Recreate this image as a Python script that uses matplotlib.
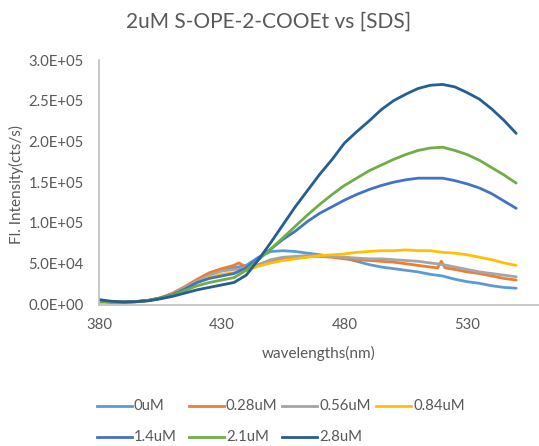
import matplotlib
matplotlib.use("Agg")
import matplotlib.pyplot as plt
from matplotlib.lines import Line2D

wavelengths = list(range(380, 551, 5))

s_0uM = [4e3, 3e3, 3e3, 3.5e3, 5e3, 8e3, 1.3e4, 2.0e4, 2.9e4, 3.7e4, 4.2e4, 4.5e4, 4.8e4, 5.8e4,
         6.5e4, 6.6e4, 6.5e4, 6.3e4, 6.1e4, 5.9e4, 5.7e4, 5.3e4, 4.9e4, 4.6e4, 4.4e4, 4.2e4,
         4.0e4, 3.7e4, 3.5e4, 3.1e4, 2.8e4, 2.6e4, 2.3e4, 2.1e4, 2.0e4]

wl_028 = [380, 385, 390, 395, 400, 405, 410, 415, 420, 425, 430, 435, 437, 440, 445, 450, 455,
          460, 465, 470, 475, 480, 485, 490, 495, 500, 505, 510, 515, 518, 519.5, 521, 525,
          530, 535, 540, 545, 550]
s_028uM = [4e3, 3e3, 3e3, 3.5e3, 5e3, 8e3, 1.4e4, 2.2e4, 3.1e4, 3.9e4, 4.4e4, 4.8e4, 5.1e4,
           4.6e4, 4.9e4, 5.3e4, 5.6e4, 5.8e4, 5.9e4, 5.9e4, 5.8e4, 5.6e4, 5.5e4, 5.4e4, 5.3e4,
           5.2e4, 5.0e4, 4.8e4, 4.6e4, 4.5e4, 5.3e4, 4.5e4, 4.3e4, 4.0e4, 3.8e4, 3.5e4, 3.2e4, 3.0e4]

s_056uM = [4e3, 3e3, 3e3, 3.5e3, 5e3, 8e3, 1.3e4, 2.1e4, 2.9e4, 3.6e4, 4.1e4, 4.3e4, 4.4e4,
           4.9e4, 5.5e4, 5.8e4, 5.9e4, 6.0e4, 6.0e4, 5.9e4, 5.8e4, 5.7e4, 5.6e4, 5.6e4, 5.5e4,
           5.4e4, 5.3e4, 5.1e4, 4.9e4, 4.6e4, 4.3e4, 4.0e4, 3.8e4, 3.6e4, 3.4e4]

s_084uM = [2e3, 2e3, 2e3, 3e3, 4.5e3, 7e3, 1.2e4, 1.9e4, 2.7e4, 3.3e4, 3.7e4, 3.9e4, 4.2e4,
           4.7e4, 5.1e4, 5.4e4, 5.6e4, 5.8e4, 6.0e4, 6.1e4, 6.2e4, 6.4e4, 6.5e4, 6.6e4, 6.6e4,
           6.7e4, 6.6e4, 6.6e4, 6.4e4, 6.3e4, 6.1e4, 5.8e4, 5.5e4, 5.1e4, 4.8e4]

s_14uM = [4e3, 3e3, 3e3, 3.5e3, 5e3, 8e3, 1.2e4, 1.9e4, 2.7e4, 3.2e4, 3.5e4, 3.8e4, 4.5e4,
          5.7e4, 6.8e4, 8.0e4, 9.0e4, 1.02e5, 1.12e5, 1.2e5, 1.28e5, 1.35e5, 1.41e5, 1.46e5,
          1.5e5, 1.53e5, 1.55e5, 1.55e5, 1.55e5, 1.52e5, 1.48e5, 1.43e5, 1.36e5, 1.27e5, 1.18e5]

s_21uM = [4e3, 3e3, 3e3, 3.5e3, 5e3, 7.5e3, 1.1e4, 1.7e4, 2.3e4, 2.7e4, 3.0e4, 3.3e4, 4.2e4,
          5.5e4, 6.8e4, 8.2e4, 9.6e4, 1.1e5, 1.23e5, 1.35e5, 1.46e5, 1.55e5, 1.64e5, 1.71e5,
          1.78e5, 1.84e5, 1.89e5, 1.92e5, 1.93e5, 1.89e5, 1.84e5, 1.77e5, 1.68e5, 1.59e5, 1.49e5]

s_28uM = [6e3, 4e3, 3e3, 3.5e3, 4.5e3, 7e3, 1.0e4, 1.4e4, 1.8e4, 2.1e4, 2.4e4, 2.7e4, 3.6e4,
          5.5e4, 7.6e4, 9.8e4, 1.2e5, 1.4e5, 1.6e5, 1.78e5, 1.98e5, 2.12e5, 2.25e5, 2.39e5,
          2.5e5, 2.58e5, 2.65e5, 2.69e5, 2.7e5, 2.67e5, 2.6e5, 2.52e5, 2.4e5, 2.26e5, 2.1e5]

labels = ["0uM", "0.28uM", "0.56uM", "0.84uM", "1.4uM", "2.1uM", "2.8uM"]
colors = ["#5B9BD5", "#ED7D31", "#A5A5A5", "#FFC000", "#4472C4", "#70AD47", "#255E91"]
xs = [wavelengths, wl_028, wavelengths, wavelengths, wavelengths, wavelengths, wavelengths]
ys = [s_0uM, s_028uM, s_056uM, s_084uM, s_14uM, s_21uM, s_28uM]

xticks = [380, 430, 480, 530]
yticks = [0, 5e4, 1e5, 1.5e5, 2e5, 2.5e5, 3e5]
ytick_labels = ["0.0E+00", "5.0E+04", "1.0E+05", "1.5E+05", "2.0E+05", "2.5E+05", "3.0E+05"]

plt.rcParams['font.family'] = ['Lato', 'DejaVu Sans']
W, H = 539, 446
fig = plt.figure(figsize=(W / 100, H / 100), dpi=100)
ax = fig.add_axes([99 / W, 1 - 304.5 / H, 1 - 99 / W, (304.5 - 60) / H])

for x, y, c in zip(xs, ys, colors):
    ax.plot(x, y, color=c, lw=2.0, solid_joinstyle='round', solid_capstyle='round')

ax.set_xlim(380, 559.3)
ax.set_ylim(0, 3e5)
ax.set_xticks(xticks)
ax.set_yticks(yticks)
ax.set_yticklabels(ytick_labels)
ax.tick_params(length=0, labelsize=10.7, colors="#595959")
ax.tick_params(axis="y", pad=11)
ax.tick_params(axis="x", pad=10)
for s in ["top", "right"]:
    ax.spines[s].set_visible(False)
for s in ["left", "bottom"]:
    ax.spines[s].set_color("#BFBFBF")
    ax.spines[s].set_linewidth(1.2)

text_col = "#595959"
fig.text(269 / W, 1 - 22 / H, "2uM S-OPE-2-COOEt vs [SDS]", ha="center", va="center",
         fontsize=15, color=text_col)
fig.text(319 / W, 1 - 353 / H, "wavelengths(nm)", ha="center", va="center",
         fontsize=11, color=text_col)
fig.text(16 / W, 1 - 184 / H, "Fl. Intensity(cts/s)", ha="center", va="center",
         fontsize=11, color=text_col, rotation=90)

# legend (row-major, fixed column width like the original)
leg_pos = [(97, 406), (189, 406), (282, 406), (376, 406),
           (97, 437), (189, 437), (282, 437)]
for (lx, ly), lab, c in zip(leg_pos, labels, colors):
    fig.add_artist(Line2D([lx / W, (lx + 35) / W], [1 - ly / H, 1 - ly / H],
                          color=c, lw=2.0, transform=fig.transFigure))
    fig.text((lx + 37) / W, 1 - ly / H, lab, ha="left", va="center",
             fontsize=10.7, color=text_col)

fig.savefig("out.png", dpi=100)
